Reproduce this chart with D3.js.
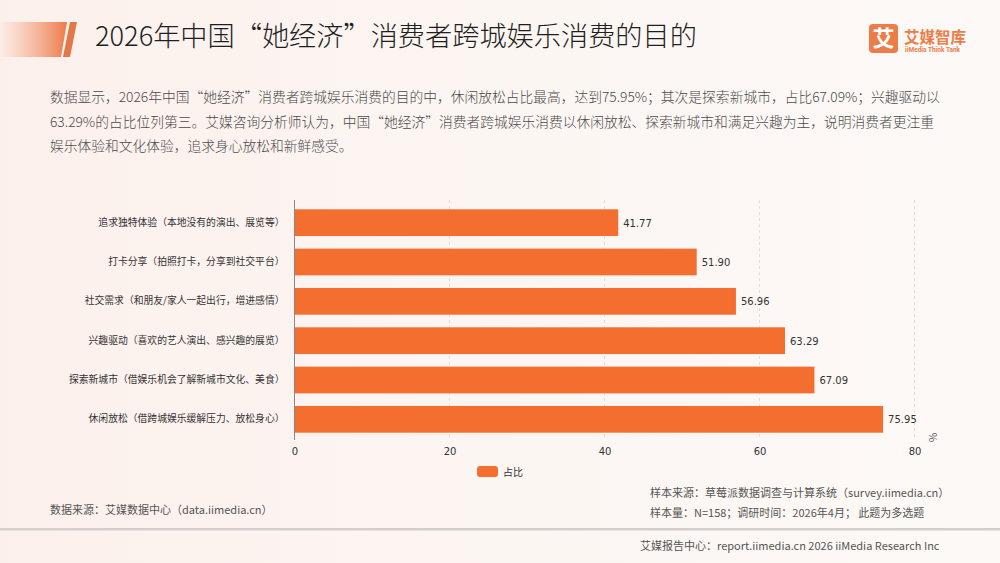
<!DOCTYPE html>
<html><head><meta charset="utf-8">
<script src="https://cdn.jsdelivr.net/npm/d3@7/dist/d3.min.js"></script>
<style>
html,body{margin:0;padding:0;background:#fcf6f3;}
svg{display:block;font-family:"Noto Sans CJK SC","Noto Sans",sans-serif;}
</style></head>
<body><svg id="c" width="1000" height="563"></svg>
<script>
const categories = [
  "追求独特体验（本地没有的演出、展览等）",
  "打卡分享（拍照打卡，分享到社交平台）",
  "社交需求（和朋友/家人一起出行，增进感情）",
  "兴趣驱动（喜欢的艺人演出、感兴趣的展览）",
  "探索新城市（借娱乐机会了解新城市文化、美食）",
  "休闲放松（借跨城娱乐缓解压力、放松身心）"
];
const values = [41.77, 51.90, 56.96, 63.29, 67.09, 75.95];
const xTicks = [0, 20, 40, 60, 80];
const seriesName = "占比";
const titleText = "2026年中国“她经济”消费者跨城娱乐消费的目的";
const paragraph = [
  "数据显示，2026年中国“她经济”消费者跨城娱乐消费的目的中，休闲放松占比最高，达到75.95%；其次是探索新城市，占比67.09%；兴趣驱动以",
  "63.29%的占比位列第三。艾媒咨询分析师认为，中国“她经济”消费者跨城娱乐消费以休闲放松、探索新城市和满足兴趣为主，说明消费者更注重",
  "娱乐体验和文化体验，追求身心放松和新鲜感受。"
];
const sourceLeft = "数据来源：艾媒数据中心（data.iimedia.cn）";
const sourceRight = ["样本来源：草莓派数据调查与计算系统（survey.iimedia.cn）", "样本量：N=158；调研时间：2026年4月； 此题为多选题"];
const footer = "艾媒报告中心：report.iimedia.cn  2026 iiMedia Research Inc";

const svg = d3.select("#c");
const defs = svg.append("defs");
const bg = defs.append("linearGradient").attr("id","bg").attr("x1","0").attr("x2","1").attr("y1","0").attr("y2","0");
bg.append("stop").attr("offset","0").attr("stop-color","#fcf0ec");
bg.append("stop").attr("offset","0.5").attr("stop-color","#fcf6f3");
bg.append("stop").attr("offset","1").attr("stop-color","#fdf9f6");
svg.append("rect").attr("width",1000).attr("height",563).attr("fill","url(#bg)");

const dg = defs.append("linearGradient").attr("id","deco").attr("x1","0").attr("x2","1");
dg.append("stop").attr("offset","0").attr("stop-color","#f3a07a").attr("stop-opacity","0.05");
dg.append("stop").attr("offset","1").attr("stop-color","#ec7b4a").attr("stop-opacity","1");

// title decoration
svg.append("path").attr("d","M0,22 L67,22 L61,57 L0,57 Z").attr("fill","url(#deco)");
svg.append("path").attr("d","M70,22 L77,22 L70,57 L63,57 Z").attr("fill","#e2774a");

svg.append("text").attr("x",95).attr("y",46).attr("font-size",27.2).attr("font-weight",300).attr("fill","#1f1f1f").text(titleText);

// logo
const logo = svg.append("g");
logo.append("rect").attr("x",869).attr("y",24).attr("width",29).attr("height",29).attr("rx",4).attr("fill","#ec7c48");
logo.append("text").attr("x",883.5).attr("y",46).attr("text-anchor","middle").attr("font-size",22).attr("font-weight",700).attr("fill","#fff").text("艾");
logo.append("text").attr("x",904).attr("y",43).attr("font-size",15.5).attr("font-weight",700).attr("fill","#ec7c48").text("艾媒智库");
logo.append("text").attr("x",905).attr("y",52).attr("font-size",6.5).attr("font-weight",700).attr("fill","#ec7c48").attr("font-family","Roboto, sans-serif").text("iiMedia Think Tank");

// paragraph
svg.append("g").selectAll("text").data(paragraph).join("text")
  .attr("x",50).attr("y",(d,i)=>102+i*24.5).attr("font-size",13.75).attr("font-weight",300).attr("fill","#4a4a4a").text(d=>d);

// chart
const x = d3.scaleLinear().domain([0,80]).range([294.5,914.5]);
const y = d3.scaleBand().domain(categories).range([203,439]).paddingInner(0.32).paddingOuter(0.16);

const grid = svg.append("g");
grid.selectAll("line").data(xTicks.filter(d=>d>0)).join("line")
  .attr("x1",d=>x(d)).attr("x2",d=>x(d)).attr("y1",200).attr("y2",440)
  .attr("stroke","#d9d6d4").attr("stroke-width",0.8).attr("stroke-dasharray","3,3");

svg.append("g").selectAll("rect").data(values).join("rect")
  .attr("x",x(0)).attr("y",(d,i)=>y(categories[i])).attr("width",d=>x(d)-x(0)).attr("height",y.bandwidth())
  .attr("fill","#f46f2f");

svg.append("g").selectAll("text").data(values).join("text")
  .attr("x",d=>x(d)+5).attr("y",(d,i)=>y(categories[i])+y.bandwidth()/2+4)
  .attr("font-size",10).attr("fill","#333").attr("font-family","DejaVu Sans, sans-serif").text(d=>d.toFixed(2));

const yAxis = svg.append("g").attr("transform",`translate(${x(0)},0)`)
  .call(d3.axisLeft(y).tickSize(0).tickPadding(10));
yAxis.select(".domain").attr("stroke","#888").attr("d","M0,200V440");
yAxis.selectAll("text").attr("font-size",9.8).attr("fill","#333").attr("font-family","Noto Sans CJK SC, sans-serif");

const xAxis = svg.append("g").attr("transform","translate(0,440)")
  .call(d3.axisBottom(x).tickValues(xTicks).tickSize(0).tickPadding(8).tickFormat(d3.format("d")));
xAxis.select(".domain").remove();
xAxis.selectAll("text").attr("font-size",10).attr("fill","#333").attr("font-family","DejaVu Sans, sans-serif");

svg.append("text").attr("transform","translate(937,442) rotate(-90)").attr("font-size",10).attr("fill","#555").text("%");

// legend
svg.append("rect").attr("x",477).attr("y",466).attr("width",21).attr("height",11).attr("rx",3).attr("fill","#f46f2f");
svg.append("text").attr("x",503).attr("y",475.5).attr("font-size",10).attr("fill","#333").text(seriesName);

// sources
svg.append("text").attr("x",50).attr("y",514).attr("font-size",11).attr("fill","#555").text(sourceLeft);
svg.append("g").selectAll("text").data(sourceRight).join("text")
  .attr("x",650).attr("y",(d,i)=>497+i*20).attr("font-size",11).attr("fill","#555").text(d=>d);

svg.append("rect").attr("x",0).attr("y",528).attr("width",1000).attr("height",2.5).attr("fill","#d3cfcc");
svg.append("text").attr("x",640).attr("y",550).attr("font-size",11).attr("fill","#555").text(footer);
</script></body></html>
